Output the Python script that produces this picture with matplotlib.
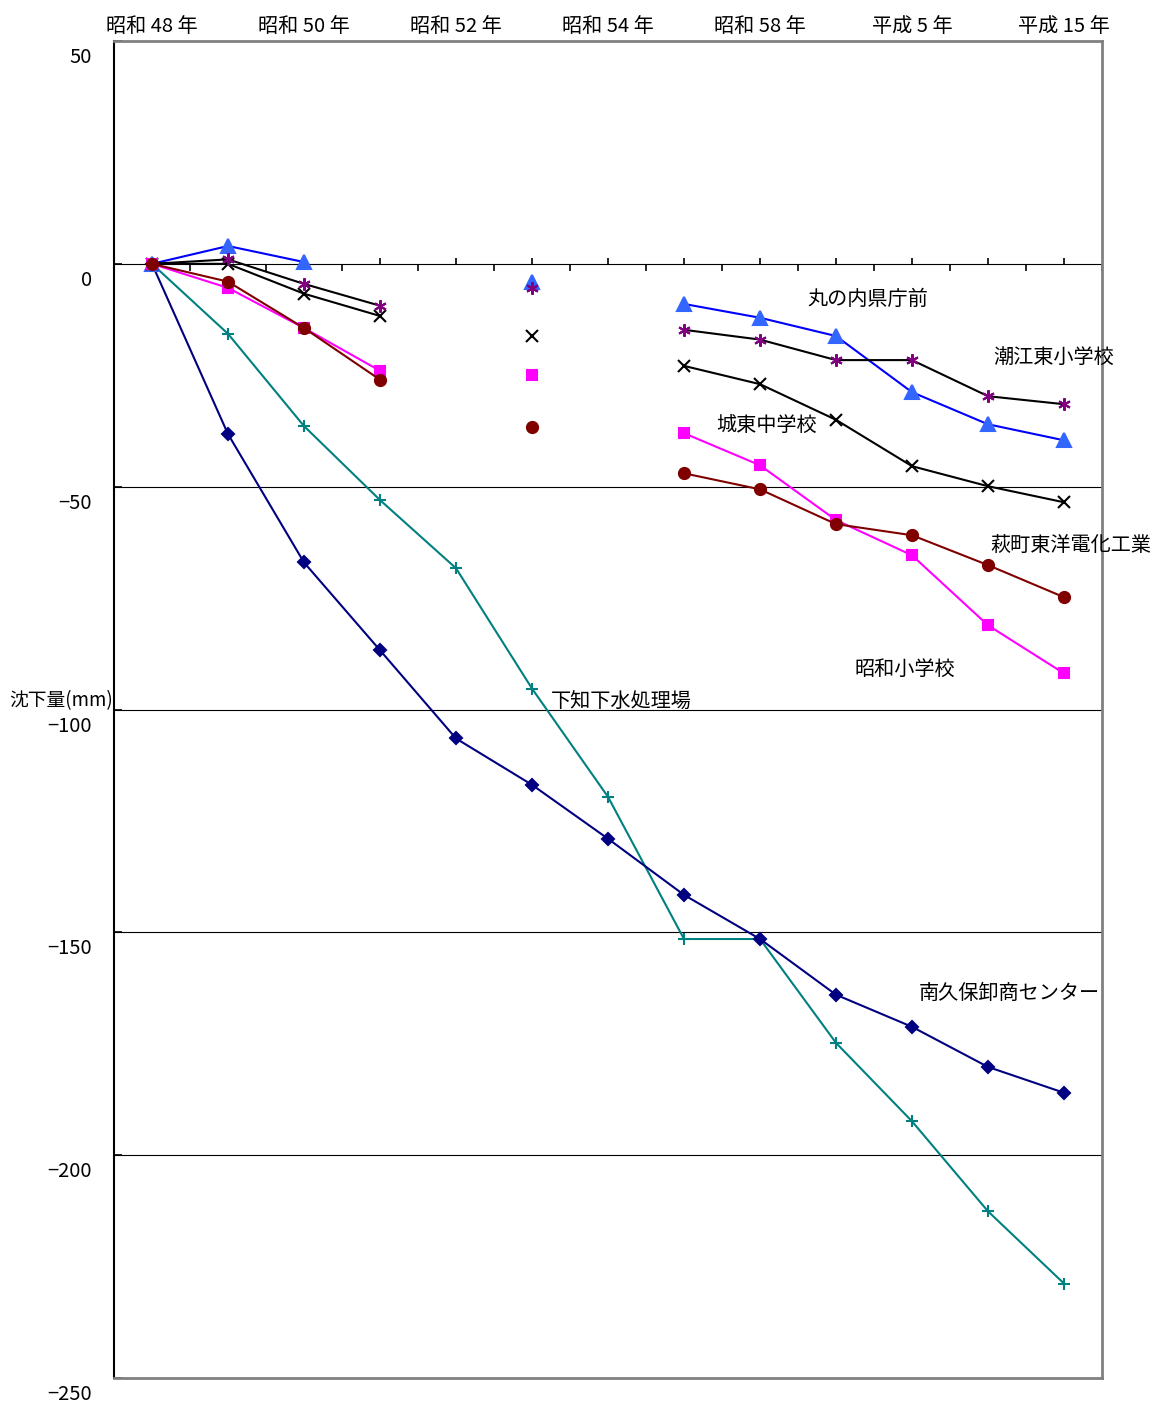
import numpy as np
import matplotlib
matplotlib.use("Agg")
import matplotlib.pyplot as plt
from matplotlib.transforms import ScaledTranslation

plt.rcParams['font.family'] = ['Noto Sans CJK JP', 'DejaVu Sans']

nan = np.nan

# x positions 0..12, only some have tick labels
x_pos = np.arange(13)
tick_idx = [0, 2, 4, 6, 8, 10, 12]
tick_labels = ["昭和 48 年", "昭和 50 年", "昭和 52 年", "昭和 54 年",
               "昭和 58 年", "平成 5 年", "平成 15 年"]

# settlement (mm)
minamikubo = [0, -38.2, -67.0, -86.7, -106.5, -116.9, -129.0, -141.6, -151.5, -164.0, -171.2, -180.2, -186.0]
shimochi = [0, -15.7, -36.4, -53.0, -68.3, -95.3, -119.6, -151.5, -151.5, -174.8, -192.4, -212.6, -228.8]
marunouchi = [0, 4.0, 0.4, nan, nan, -4.0, nan, -9.0, -12.1, -16.2, -28.8, -36.0, -39.6]
ushioe = [0, 1.0, -4.5, -9.4, nan, -5.4, nan, -14.8, -17.0, -21.6, -21.6, -29.7, -31.5]
joto = [0, 0.0, -6.7, -11.7, nan, -16.2, nan, -22.9, -27.0, -35.0, -45.4, -49.9, -53.5]
hagi = [0, -4.0, -14.4, -26.0, nan, -36.6, nan, -47.0, -50.6, -58.4, -60.9, -67.6, -74.8]
showa = [0, -5.4, -14.4, -24.0, nan, -24.9, nan, -38.0, -45.2, -57.5, -65.4, -81.1, -91.9]

series = [
    # values, line color, marker, marker color, marker size
    (shimochi, "#008080", "+", "#008080", 8),
    (minamikubo, "#000080", "D", "#000080", 6),
    (marunouchi, "#0000FF", "^", "#3366FF", 10),
    (joto, "#000000", "x", "#000000", 8),
    (ushioe, "#000000", (6, 2, 0), "#800080", 9),
    (showa, "#FF00FF", "s", "#FF00FF", 7.5),
    (hagi, "#800000", "o", "#800000", 8),
]

labels = [
    ("丸の内県庁前", 9.42, -7.9),
    ("潮江東小学校", 11.86, -20.9),
    ("城東中学校", 8.09, -36.2),
    ("萩町東洋電化工業", 12.09, -63.1),
    ("昭和小学校", 9.91, -91.0),
    ("下知下水処理場", 6.17, -98.4),
    ("南久保卸商センター", 11.28, -163.8),
]

fig = plt.figure(figsize=(11.55, 14.05), dpi=100)
ax = fig.add_axes([114 / 1155, 27 / 1405, 988 / 1155, 1337 / 1405])
ax.set_xlim(-0.5, 12.5)
ax.set_ylim(-250, 50)

# gridlines
for gy in [-50, -100, -150, -200]:
    ax.axhline(gy, color="black", lw=0.8, zorder=1)

for vals, lc, mk, mc, ms in series:
    ax.plot(x_pos, vals, color=lc, lw=1.5, marker=mk, markersize=ms,
            markerfacecolor=mc, markeredgecolor=mc, markeredgewidth=1.5, zorder=3)

# category axis along y = 0
zx = ax.secondary_xaxis(250 / 300)
zx.spines['bottom'].set_color("#404040")
zx.spines['bottom'].set_linewidth(1.8)
zx.set_xticks(np.arange(-0.5, 12.6, 1.0))
zx.set_xticks(x_pos, minor=True)
zx.tick_params(which='major', direction='in', length=5, width=1.2, color="black", labelbottom=False)
zx.tick_params(which='minor', direction='out', length=4, width=1.2, color="black", labelbottom=False)
zx.set_xticklabels([])

# top labels
ax.xaxis.tick_top()
ax.set_xticks(tick_idx)
ax.set_xticklabels(tick_labels, fontsize=14.5)
ax.tick_params(axis='x', length=0, pad=3)

ax.set_yticks([50, 0, -50, -100, -150, -200, -250])
ax.set_yticklabels(["50", "0", "\u221250", "\u2212100", "\u2212150", "\u2212200", "\u2212250"], fontsize=14.5)
ax.tick_params(axis='y', direction='in', length=6, width=1.2, pad=16)
for lab in ax.get_yticklabels():
    lab.set_transform(lab.get_transform() + ScaledTranslation(0, -14 / 100, fig.dpi_scale_trans))

for side in ['top', 'right', 'bottom']:
    ax.spines[side].set_color("#808080")
    ax.spines[side].set_linewidth(2)
ax.spines['left'].set_color("black")
ax.spines['left'].set_linewidth(1.5)

for txt, tx, ty in labels:
    ax.text(tx, ty, txt, fontsize=14.5, ha="center", va="center", zorder=4)

ax.text(-0.51, -98.0, "沈下量(mm)", fontsize=13.5, ha="right", va="center", clip_on=False)

fig.savefig("out.png", dpi=100)
